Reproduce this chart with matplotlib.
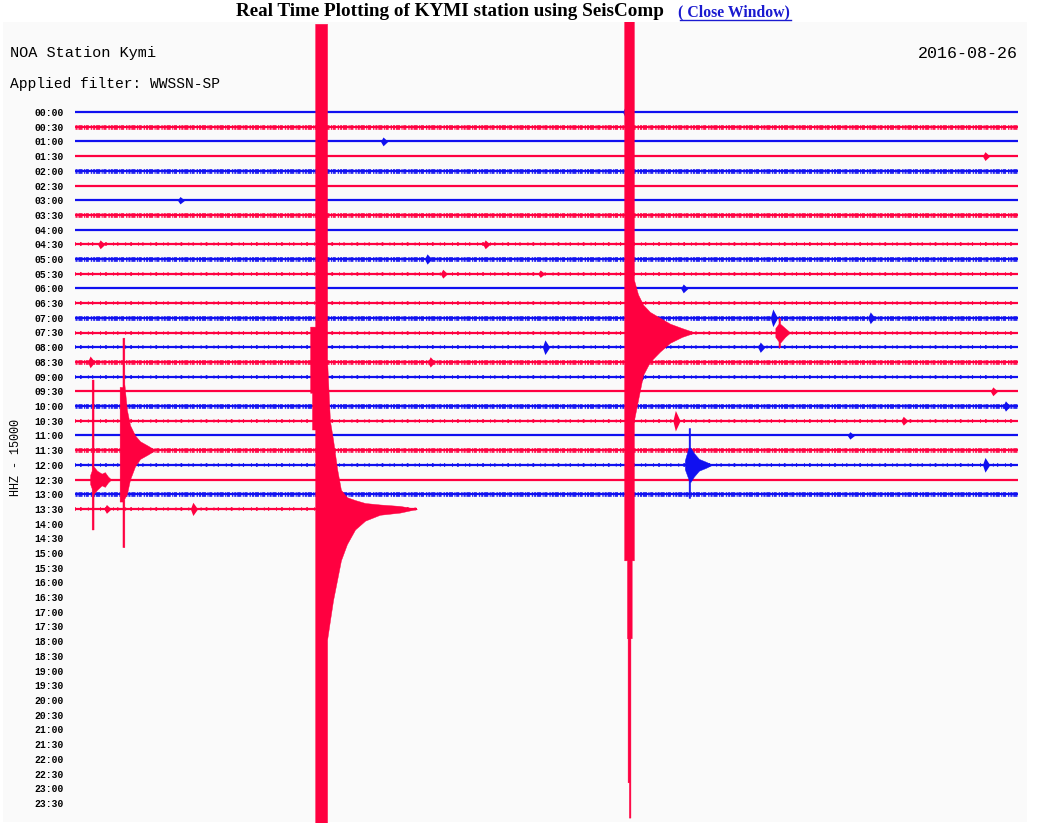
import matplotlib
matplotlib.use("Agg")
import matplotlib.pyplot as plt
import numpy as np
from matplotlib.patches import Rectangle
from matplotlib.lines import Line2D

# --- данные helicorder ---
row_labels = [f"{h:02d}:{m:02d}" for h in range(24) for m in (0, 30)]
trace_colors = ["#1010f0", "#ff0040"]          # :00 синий, :30 красный
n_recorded = 28                                 # 00:00 .. 13:30
last_row_end = 10.88                            # минуты в последней строке

# уровень шума для каждой записанной строки (0 чисто, 1 средне, 2 рвано)
noise_level = [0, 2, 0, 0, 2, 0, 0, 2, 0, 1, 2, 1, 0, 1,
               2, 1, 1, 2, 1, 0, 2, 1, 0, 2, 1, 0, 2, 1]

# землетрясения: строка, моменты (мин), верх/низ огибающей (в строках)
quake_rows = [27, 15, 23, 25, 24, 15]
quake_times = [
    [7.48, 7.54, 7.54, 7.64, 7.64, 8.02, 8.02, 8.11, 8.21, 8.34, 8.46, 8.65, 8.91, 9.23, 9.70, 10.34, 10.88],
    [17.47, 17.56, 17.56, 17.58, 17.58, 17.62, 17.62, 17.67, 17.67, 17.71, 17.71, 17.78, 17.78,
     17.91, 18.07, 18.29, 18.61, 18.93, 19.31, 19.72],
    [1.42, 1.51, 1.51, 1.57, 1.57, 1.65, 1.75, 1.91, 2.07, 2.32, 2.55],
    [0.48, 0.53, 0.53, 0.59, 0.59, 0.70, 0.85, 0.95, 1.05, 1.15],
    [19.40, 19.52, 19.52, 19.57, 19.57, 19.69, 19.85, 20.08, 20.27],
    [22.28, 22.38, 22.38, 22.43, 22.43, 22.59, 22.75],
]
quake_hi = [
    [12.4, 12.4, 12.4, 12.4, 33.0, 33.0, 10.1, 6.0, 4.7, 2.7, 1.3, 0.8, 0.6, 0.4, 0.3, 0.2, 0.0],
    [22, 22, 22, 22, 22, 22, 22, 22, 22, 22, 22, 22, 3.6, 2.6, 1.9, 1.4, 1.0, 0.6, 0.3, 0.0],
    [4.3, 4.3, 7.65, 7.65, 4.5, 2.75, 1.7, 1.0, 0.6, 0.3, 0.0],
    [0.3, 0.6, 6.8, 6.8, 0.9, 0.6, 0.4, 0.5, 0.2, 0.0],
    [0.3, 1.2, 2.5, 2.5, 1.2, 0.8, 0.4, 0.2, 0.0],
    [0.3, 0.6, 1.0, 1.0, 0.6, 0.3, 0.0],
]
quake_lo = [
    [7.9, 7.9, 5.4, 5.4, -22.0, -22.0, -8.9, -7.6, -6.2, -4.8, -3.5, -2.4, -1.4, -0.8, -0.4, -0.25, 0.0],
    [-15.5, -15.5, -20.8, -20.8, -30.6, -30.6, -33.0, -33.0, -20.8, -20.8, -15.5, -15.5, -6.0,
     -4.6, -2.9, -2.0, -1.3, -0.7, -0.3, 0.0],
    [-3.5, -3.5, -6.6, -6.6, -3.3, -3.0, -2.0, -1.1, -0.6, -0.3, 0.0],
    [-0.3, -0.6, -3.4, -3.4, -1.0, -0.7, -0.4, -0.5, -0.2, 0.0],
    [-0.3, -1.0, -2.25, -2.25, -1.2, -0.8, -0.4, -0.2, 0.0],
    [-0.3, -0.6, -1.0, -1.0, -0.7, -0.3, 0.0],
]

# мелкие всплески: строка, время (мин), амплитуда (в строках)
burst_rows = [0, 2, 3, 6, 9, 9, 10, 11, 11, 12, 14, 14, 16, 16, 17, 17, 18, 19, 20, 21, 21, 22, 24, 27, 27]
burst_times = [17.5, 9.8, 28.95, 3.34, 0.8, 13.05, 11.2, 11.7, 14.8, 19.35, 25.3, 22.2, 14.95, 21.8,
               11.3, 0.48, 17.98, 29.2, 29.6, 19.1, 26.35, 24.65, 28.95, 3.75, 1.0]
burst_amps = [0.35, 0.3, 0.3, 0.25, 0.3, 0.3, 0.35, 0.3, 0.25, 0.3, 0.4, 0.6, 0.5, 0.35,
              0.35, 0.4, 0.4, 0.3, 0.35, 0.7, 0.3, 0.25, 0.5, 0.45, 0.3]

W, H = 1039, 834
plt.rcParams["font.family"] = ["Liberation Mono", "DejaVu Sans Mono"]
plt.rcParams["lines.scale_dashes"] = False

fig = plt.figure(figsize=(W / 100, H / 100), dpi=100)
fig.patch.set_facecolor("white")
fig.patches.append(Rectangle((3 / W, 1 - 822 / H), 1024 / W, 800 / H, transform=fig.transFigure,
                             facecolor="#fafafa", edgecolor="none", zorder=0))

ax = fig.add_axes([75 / W, 1 - 822 / H, 943 / W, 800 / H])
ax.set_zorder(2)
ax.set_facecolor("none")
ax.set_xlim(0, 30)
ax.set_ylim(-(822 - 112) / 14.7, (112 - 22) / 14.7)

# базовые линии и шум
for i in range(n_recorded):
    c = trace_colors[i % 2]
    end = 30 if i < n_recorded - 1 else last_row_end
    ax.plot([0, end], [-i, -i], color=c, lw=1.6, solid_capstyle="butt", zorder=2)
    if noise_level[i] == 2:
        ax.plot([0, end], [-i, -i], color=c, lw=3.4,
                dashes=(1.5, 0.6, 3, 1, 0.8, 0.5, 2.2, 1.4, 1, 0.7), alpha=0.9, zorder=2)
    elif noise_level[i] == 1:
        ax.plot([0, end], [-i, -i], color=c, lw=2.8,
                dashes=(0.6, 3, 1.2, 4.5, 0.5, 2.5, 0.8, 5), alpha=0.9, zorder=2)

# всплески
for r, t, a in zip(burst_rows, burst_times, burst_amps):
    c = trace_colors[r % 2]
    ax.fill_between([t - 0.08, t, t + 0.15], [-r, -r + a, -r], [-r, -r - a, -r],
                    color=c, lw=0, zorder=3)

# события
for r, ts, hi, lo in zip(quake_rows, quake_times, quake_hi, quake_lo):
    c = trace_colors[r % 2]
    ax.fill_between(ts, -r + np.array(lo), -r + np.array(hi), color=c, lw=0.3, zorder=4)

ax.set_yticks([-i for i in range(len(row_labels))], row_labels)
ax.set_xticks([])
ax.tick_params(axis="y", length=0, pad=8, labelsize=7)
for lab in ax.get_yticklabels():
    lab.set_fontweight("bold")
for s in ax.spines.values():
    s.set_visible(False)

# подписи
fig.text(450 / W, 1 - 12 / H, "Real Time Plotting of KYMI station using SeisComp",
         ha="center", va="center", fontsize=13.8, fontweight="bold", family="Liberation Serif")
link_blue = "#1a1ad0"
fig.text(678 / W, 1 - 12 / H, "( Close Window)", ha="left", va="center", fontsize=11.3,
         fontweight="bold", family="Liberation Serif", color=link_blue)
fig.add_artist(Line2D([680 / W, 791 / W], [1 - 20 / H] * 2, color=link_blue, lw=1))

fig.text(10 / W, 1 - 53 / H, "NOA Station Kymi", ha="left", va="center", fontsize=11)
fig.text(10 / W, 1 - 84 / H, "Applied filter: WWSSN-SP", ha="left", va="center", fontsize=10.5)
fig.text(1018 / W, 1 - 53 / H, "2016-08-26", ha="right", va="center", fontsize=12)
fig.text(16 / W, 1 - 457 / H, "HHZ - 15000", rotation=90, ha="center", va="center", fontsize=8.5)

fig.savefig("out.png", dpi=100)
